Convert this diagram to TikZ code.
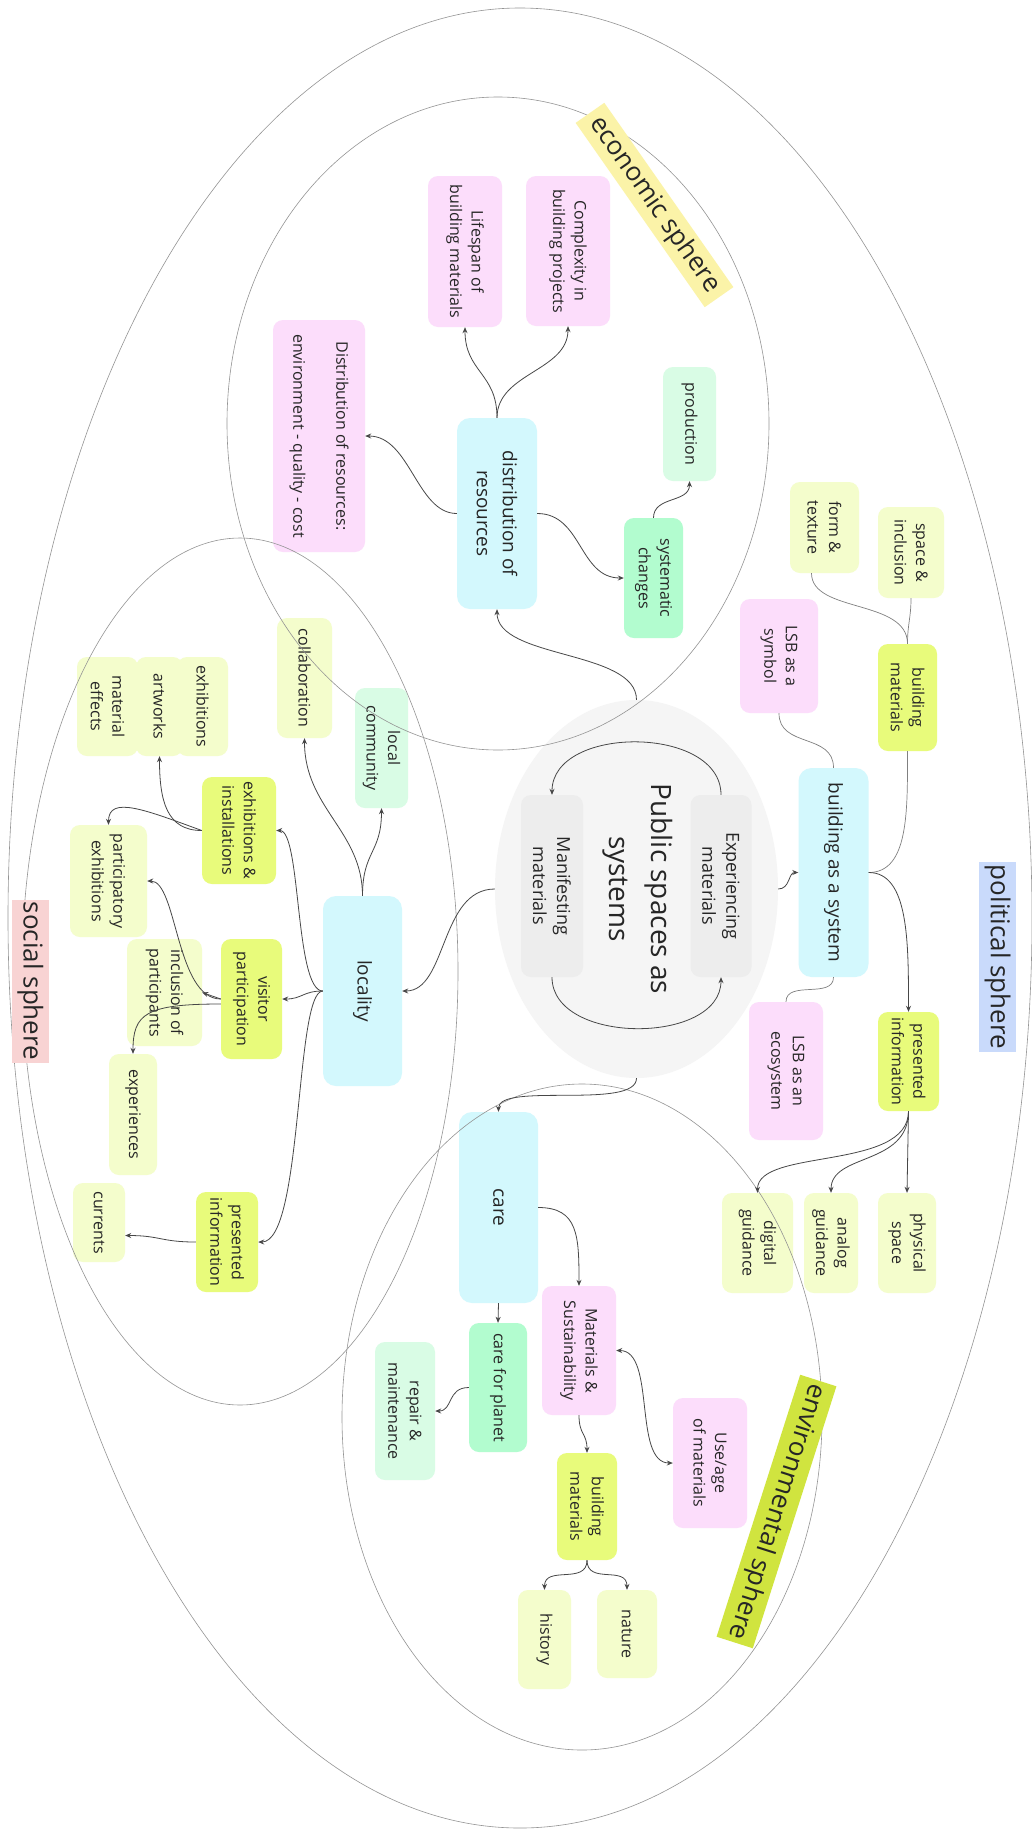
\documentclass[tikz,border=0pt]{standalone}
\usepackage{fontspec}
\setmainfont{Open Sans}
\usetikzlibrary{shapes.geometric,arrows.meta,calc}

\definecolor{ink}{HTML}{262626}
\definecolor{cyanF}{HTML}{D3F8FD}
\definecolor{pinkF}{HTML}{FCDDFB}
\definecolor{limeF}{HTML}{E8FB7B}
\definecolor{paleF}{HTML}{F4FDCC}
\definecolor{mintF}{HTML}{D9FCE5}
\definecolor{greenF}{HTML}{B2FCCF}
\definecolor{hubF}{HTML}{F5F5F5}
\definecolor{hubBox}{HTML}{EDEDED}
\definecolor{econY}{HTML}{FBF3A8}
\definecolor{polB}{HTML}{C9DAFB}
\definecolor{socR}{HTML}{F8D3D3}
\definecolor{envG}{HTML}{D0E43F}

\tikzset{
  nd/.style={rounded corners=10pt, rotate=-90, align=center, inner sep=2pt,
    text=ink, font=\fontsize{16}{21.5}\selectfont},
  big/.style={font=\fontsize{19}{26}\selectfont, rounded corners=13pt},
  cyanbox/.style={fill=cyanF, big},
  pinkbox/.style={fill=pinkF},
  limebox/.style={fill=limeF},
  palebox/.style={fill=paleF},
  mintbox/.style={fill=mintF},
  greenbox/.style={fill=greenF},
  graybox/.style={fill=hubBox, font=\fontsize{18}{24}\selectfont},
  sph/.style={inner sep=0pt, text=ink, font=\fontsize{26}{30}\selectfont},
  ring/.style={draw=black!42, line width=0.6pt},
  arr/.style={draw=black!72, line width=0.8pt, -{Stealth[length=6pt,width=5pt]}},
  ln/.style={draw=black!50, line width=0.7pt},
}

\begin{document}
\begin{tikzpicture}[x=1pt,y=-1pt]
\useasboundingbox (0,0) rectangle (1032,1831);
\fill[white] (0,0) rectangle (1032,1831);

% central hub
\node[ellipse, fill=hubF, inner sep=0pt, minimum width=283pt, minimum height=378pt] (hub) at (636.5,889) {};
\node[nd, graybox, minimum width=182pt, minimum height=61pt] (exper) at (721,886) {Experiencing\\materials};
\node[nd, graybox, minimum width=182pt, minimum height=62pt] (manif) at (552,886) {Manifesting\\materials};
\node[rotate=-90, align=center, text=ink, font=\fontsize{28}{42}\selectfont] (title) at (638,889) {Public spaces as\\systems};

% main branches
\node[nd, cyanbox, minimum width=191pt, minimum height=80pt] (distres) at (497,513.5) {distribution of\\resources};
\node[nd, cyanbox, minimum width=209pt, minimum height=70pt] (bsys) at (833.5,872.5) {building as a system};
\node[nd, cyanbox, minimum width=190pt, minimum height=79pt] (locality) at (362.5,991) {locality};
\node[nd, cyanbox, minimum width=191pt, minimum height=79pt] (care) at (498.5,1207.5) {care};

% economic side
\node[nd, pinkbox, minimum width=150pt, minimum height=84pt] (complexity) at (568,251) {Complexity in\\building projects};
\node[nd, pinkbox, minimum width=151pt, minimum height=74pt] (lifespan) at (465,251.5) {Lifespan of\\building materials};
\node[nd, pinkbox, minimum width=232pt, minimum height=92pt] (distpink) at (319,436) {Distribution of resources:\\[21.5pt]environment - quality - cost};
\node[nd, mintbox, minimum width=114pt, minimum height=53pt] (production) at (689.5,424) {production};
\node[nd, greenbox, minimum width=120pt, minimum height=59pt] (syschg) at (653.5,578) {systematic\\changes};

% political side
\node[nd, palebox, minimum width=91pt, minimum height=69pt] (form) at (824.5,527.5) {form \&\\texture};
\node[nd, palebox, minimum width=91pt, minimum height=66pt] (space) at (911,552.5) {space \&\\inclusion};
\node[nd, pinkbox, minimum width=114pt, minimum height=78pt] (lsbsym) at (779,656) {LSB as a\\symbol};
\node[nd, limebox, minimum width=107pt, minimum height=59pt] (bmat1) at (907.5,697.5) {building\\materials};
\node[nd, limebox, minimum width=99pt, minimum height=61pt] (presinfo1) at (908.5,1061.5) {presented\\information};
\node[nd, pinkbox, minimum width=138pt, minimum height=74pt] (lsbeco) at (786,1071) {LSB as an\\ecosystem};
\node[nd, palebox, minimum width=100pt, minimum height=58pt] (physical) at (907,1243) {physical\\space};
\node[nd, palebox, minimum width=100pt, minimum height=54pt] (analog) at (831,1243) {analog\\guidance};
\node[nd, palebox, minimum width=100pt, minimum height=71pt] (digital) at (757.5,1243) {digital\\guidance};

% social side
\node[nd, palebox, minimum width=120pt, minimum height=55pt] (collab) at (304.5,678) {collaboration};
\node[nd, mintbox, minimum width=120pt, minimum height=53pt] (localcom) at (381.5,748) {local\\community};
\node[nd, palebox, minimum width=99pt, minimum height=61pt] (mateff) at (107.5,706.5) {material\\effects};
\node[nd, palebox, minimum width=99pt, minimum height=47pt] (artworks) at (159.5,706.5) {artworks};
\node[nd, palebox, minimum width=99pt, minimum height=51pt] (exhib) at (202.5,706.5) {exhibitions};
\node[nd, limebox, minimum width=107pt, minimum height=74pt] (exhinst) at (239,830.5) {exhibitions \&\\installations};
\node[nd, palebox, minimum width=112pt, minimum height=77pt] (partex) at (108.5,881) {participatory\\exhibitions};
\node[nd, palebox, minimum width=107pt, minimum height=75pt] (inclusion) at (164.5,992.5) {inclusion of\\participants};
\node[nd, limebox, minimum width=120pt, minimum height=61pt] (visitor) at (251.5,999) {visitor\\participation};
\node[nd, palebox, minimum width=121pt, minimum height=48pt] (experiences) at (133,1114.5) {experiences};
\node[nd, palebox, minimum width=79pt, minimum height=52pt] (currents) at (99,1222.5) {currents};
\node[nd, limebox, minimum width=100pt, minimum height=62pt] (presinfo2) at (227,1242) {presented\\information};

% environmental side
\node[nd, pinkbox, minimum width=129pt, minimum height=74pt] (matsus) at (579,1350.5) {Materials \&\\Sustainability};
\node[nd, greenbox, minimum width=129pt, minimum height=58pt] (careplanet) at (498,1387.5) {care for planet};
\node[nd, mintbox, minimum width=138pt, minimum height=60pt] (repair) at (405,1411) {repair \&\\maintenance};
\node[nd, pinkbox, minimum width=130pt, minimum height=74pt] (useage) at (710,1463) {Use/age\\of materials};
\node[nd, limebox, minimum width=107pt, minimum height=60pt] (bmat2) at (587,1506.5) {building\\materials};
\node[nd, palebox, minimum width=99pt, minimum height=53pt] (history) at (544.5,1639.5) {history};
\node[nd, palebox, minimum width=88pt, minimum height=60pt] (nature) at (627,1634) {nature};

% sphere outlines
\draw[ring] (520,918) ellipse [x radius=512pt, y radius=910pt];
\draw[ring] (498,423.5) ellipse [x radius=271pt, y radius=326.5pt];
\draw[ring] (240,971.5) ellipse [x radius=218pt, y radius=433.5pt];
\draw[ring] (582,1417) ellipse [x radius=240pt, y radius=333pt];

% hub cycle
\draw[arr] (exper.west) .. controls +(0,-70) and +(0,-70) .. (manif.west);
\draw[arr] (manif.east) .. controls +(0,68) and +(0,68) .. (exper.east);

% economic connectors
\draw[arr] (hub.north) .. controls +(0,-50) and +(0,50) .. (distres.east);
\draw[arr] (distres.south) .. controls +(-40,0) and +(45,0) .. (distpink.north);
\draw[arr] (distres.west) .. controls +(0,-45) and +(0,45) .. (complexity.east);
\draw[arr] (distres.west) .. controls +(0,-45) and +(0,45) .. (lifespan.east);
\draw[arr] (distres.north) .. controls +(45,0) and +(-45,0) .. (syschg.south);
\draw[arr] (syschg.west) .. controls +(0,-22) and +(0,22) .. (production.east);

% political connectors
\draw[arr] (hub.east) .. controls +(12,0) and +(-10,0) .. (bsys.south);
\draw[ln] (bsys.north) .. controls +(40,0) and +(0,60) .. (bmat1.east);
\draw[arr] (bsys.north) .. controls +(40,0) and +(0,-70) .. (presinfo1.west);
\draw[ln] (bmat1.west) .. controls +(0,-45) and +(0,40) .. ($(form.east)+(-13,0)$);
\draw[ln] (bmat1.west) .. controls +(0,-20) and +(0,20) .. (space.east);
\draw[ln] (bsys.west) .. controls +(0,-35) and +(0,35) .. (lsbsym.east);
\draw[ln] (bsys.east) .. controls +(0,22) and +(0,-22) .. (lsbeco.west);
\draw[arr] (presinfo1.east) -- (physical.west);
\draw[arr] (presinfo1.east) .. controls +(0,55) and +(0,-40) .. (analog.west);
\draw[arr] (presinfo1.east) .. controls +(0,60) and +(0,-45) .. (digital.west);

% environmental connectors
\draw[arr] (hub.south) .. controls +(0,32) and +(0,-30) .. (care.west);
\draw[arr] (care.north) .. controls +(40,0) and +(0,-50) .. (matsus.west);
\draw[arr] (care.east) -- (careplanet.west);
\draw[arr] (careplanet.south) .. controls +(-22,0) and +(18,0) .. (repair.north);
\draw[arr] (matsus.east) .. controls +(0,20) and +(0,-20) .. (bmat2.west);
\draw[arr, {Stealth[length=6pt,width=5pt]}-{Stealth[length=6pt,width=5pt]}] (matsus.north) .. controls +(40,0) and +(-40,0) .. (useage.south);
\draw[arr] (bmat2.east) .. controls +(0,25) and +(0,-25) .. (history.west);
\draw[arr] (bmat2.east) .. controls +(0,25) and +(0,-25) .. (nature.west);

% social connectors
\draw[arr] (hub.west) .. controls +(-55,0) and +(45,0) .. (locality.north);
\draw[arr] (locality.west) .. controls +(0,-45) and +(0,45) .. (localcom.east);
\draw[arr] (locality.west) .. controls +(0,-65) and +(0,70) .. (collab.east);
\draw[arr] (locality.south) .. controls +(-28,0) and +(25,0) .. (exhinst.north);
\draw[arr] (locality.south) .. controls +(-20,0) and +(20,0) .. (visitor.north);
\draw[arr] (locality.south) .. controls +(-28,0) and +(45,0) .. (presinfo2.north);
\draw[arr] (exhinst.south) .. controls +(-35,0) and +(0,45) .. (artworks.east);
\draw[arr] (exhinst.south) .. controls +(-55,-20) and +(0,-30) .. (partex.west);
\draw[arr] (visitor.south) .. controls +(-45,0) and +(30,0) .. (partex.north);
\draw[arr] (visitor.south) -- (inclusion.north);
\draw[arr] ($(visitor.south)+(0,5)$) .. controls +(-75,0) and +(0,-40) .. (experiences.west);
\draw[arr] (presinfo2.south) .. controls +(-35,0) and +(35,0) .. ($(currents.north)+(0,13)$);

% sphere labels
\node[sph, fill=econY, rotate=-55, minimum width=225pt, minimum height=35pt] (econlbl) at (654.5,205) {economic sphere};
\node[sph, fill=polB, rotate=-90, minimum width=190pt, minimum height=37pt] (pollbl) at (997.5,957) {political sphere};
\node[sph, fill=socR, rotate=-90, minimum width=163pt, minimum height=37pt] (soclbl) at (30.5,981) {social sphere};
\node[sph, fill=envG, rotate=-107.7, minimum width=275pt, minimum height=38pt] (envlbl) at (776.5,1511.5) {environmental sphere};
\end{tikzpicture}
\end{document}
